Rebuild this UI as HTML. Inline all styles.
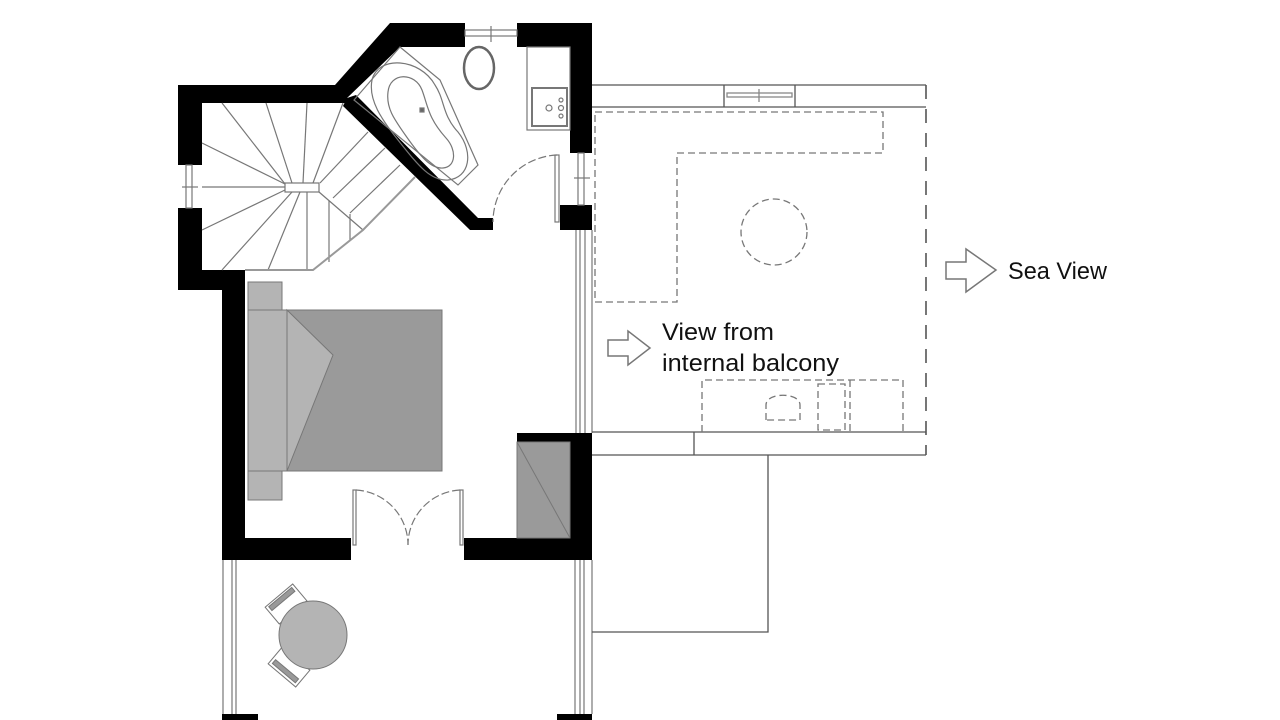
<!DOCTYPE html>
<html><head><meta charset="utf-8"><style>
html,body{margin:0;padding:0;background:#fff;width:1280px;height:720px;overflow:hidden}
svg{display:block}
text{font-family:"Liberation Sans",sans-serif;fill:#111}
</style></head><body>
<svg width="1280" height="720" viewBox="0 0 1280 720" xmlns="http://www.w3.org/2000/svg">
<g fill="#000">
<polygon points="178,85 335,85 390,23 592,23 592,47 517,47 517,47 400,47 347,98 347,103 202,103 202,165 178,165"/>
<rect x="465" y="23" width="52" height="24" fill="#fff"/>
<rect x="570" y="23" width="22" height="130"/>
<rect x="560" y="205" width="32" height="25"/>
<polygon points="347,98 356,95 478,218 493,218 493,230 470,230 343,106"/>
<rect x="178" y="208" width="24" height="82"/>
<rect x="178" y="270" width="67" height="20"/>
<rect x="222" y="270" width="23" height="290"/>
<rect x="222" y="538" width="129" height="22"/>
<rect x="464" y="538" width="128" height="22"/>
<rect x="570" y="433" width="22" height="127"/>
<rect x="517" y="433" width="75" height="9"/>
<rect x="222" y="714" width="36" height="6"/>
<rect x="557" y="714" width="35" height="6"/>
</g>
<g stroke="#777" stroke-width="1.2" fill="none">
<rect x="465" y="30" width="52" height="6"/><line x1="491" y1="26" x2="491" y2="42"/>
<rect x="186" y="165" width="6" height="43"/><line x1="182" y1="187" x2="198" y2="187"/>
<rect x="578" y="153" width="6" height="52"/><line x1="574" y1="178" x2="590" y2="178"/>
<line x1="576" y1="230" x2="576" y2="433"/><line x1="580" y1="230" x2="580" y2="433"/><line x1="585" y1="230" x2="585" y2="433"/><line x1="592" y1="230" x2="592" y2="433"/>
<line x1="223" y1="560" x2="223" y2="714"/><line x1="232" y1="560" x2="232" y2="714"/><line x1="236" y1="560" x2="236" y2="714"/>
<line x1="575" y1="560" x2="575" y2="714"/><line x1="580" y1="560" x2="580" y2="714"/><line x1="584" y1="560" x2="584" y2="714"/><line x1="592" y1="560" x2="592" y2="714"/>
<rect x="285" y="183" width="34" height="9"/>
<line x1="285" y1="187" x2="202" y2="187"/>
<line x1="285" y1="184" x2="222" y2="103"/><line x1="292" y1="183" x2="266" y2="103"/><line x1="303" y1="183" x2="307" y2="103"/><line x1="313" y1="183" x2="343" y2="103"/>
<line x1="285" y1="184" x2="202" y2="143"/><line x1="285" y1="190" x2="202" y2="230"/>
<line x1="292" y1="192" x2="222" y2="270"/><line x1="300" y1="192" x2="268" y2="270"/>
<line x1="307" y1="192" x2="307" y2="270"/><line x1="329" y1="201" x2="329" y2="262"/><line x1="350" y1="214" x2="350" y2="241"/>
<polyline points="319,192 363,230"/>
<polyline points="245,270 313,270 363,230 415,177" stroke="#999" stroke-width="2"/>
<line x1="320" y1="183" x2="368" y2="132"/><line x1="333" y1="198" x2="385" y2="148"/><line x1="350" y1="213" x2="400" y2="165"/>
<polygon points="400,47 440,80 478,165 458,185 354,100"/>
<path d="M372,80 C378,55 420,58 435,85 C445,100 442,115 458,132 C474,152 470,178 448,180 C430,181 418,165 398,140 C382,120 368,100 372,80Z"/>
<path d="M388,92 C390,72 415,72 422,90 C428,106 428,118 446,138 C457,150 456,167 443,168 C431,169 420,156 406,136 C394,119 386,108 388,92Z"/>
<rect x="420" y="108" width="4" height="4" fill="#666"/>
<ellipse cx="479" cy="68" rx="15" ry="21" stroke="#666" stroke-width="2.5"/>
<rect x="527" y="47" width="43" height="83"/>
<rect x="532" y="88" width="35" height="38" stroke-width="2"/>
<circle cx="549" cy="108" r="3"/><circle cx="561" cy="100" r="2"/><circle cx="561" cy="108" r="2.5"/><circle cx="561" cy="116" r="2"/>
<rect x="555" y="155" width="4" height="67"/>
<path d="M557,155 A67,67 0 0 0 493,222" stroke-dasharray="8,3"/>
<rect x="353" y="490" width="3" height="55"/><rect x="460" y="490" width="3" height="55"/>
<path d="M356,490 A55,55 0 0 1 408,545" stroke-dasharray="8,3"/>
<path d="M460,490 A55,55 0 0 0 408,545" stroke-dasharray="8,3"/>
</g>
<g stroke="#777" stroke-width="1">
<rect x="248" y="282" width="34" height="218" fill="#b4b4b4"/>
<rect x="287" y="310" width="155" height="161" fill="#9a9a9a"/>
<rect x="248" y="310" width="39" height="161" fill="#b4b4b4"/>
<polygon points="287,310 333,355 287,471" fill="#b4b4b4"/>
<rect x="517" y="442" width="53" height="96" fill="#9a9a9a"/>
<line x1="517" y1="442" x2="570" y2="538"/>
<g transform="rotate(-40 286 604)"><rect x="268" y="593" width="36" height="22" fill="#fff"/><rect x="271" y="595" width="30" height="5" fill="#999"/></g>
<g transform="rotate(40 289 667)"><rect x="271" y="656" width="36" height="22" fill="#fff"/><rect x="274" y="670" width="30" height="5" fill="#999"/></g>
<circle cx="313" cy="635" r="34" fill="#b4b4b4"/>
</g>
<g stroke="#555" stroke-width="1.3" fill="none">
<line x1="592" y1="85" x2="926" y2="85"/><line x1="592" y1="107" x2="926" y2="107"/>
<line x1="724" y1="85" x2="724" y2="107"/><line x1="795" y1="85" x2="795" y2="107"/>
<rect x="727" y="93" width="65" height="4" stroke="#888"/><line x1="759" y1="89" x2="759" y2="102" stroke="#888"/>
<line x1="926" y1="85" x2="926" y2="455" stroke-dasharray="14,10" stroke-width="1.6"/>
<line x1="592" y1="432" x2="926" y2="432"/><line x1="592" y1="455" x2="926" y2="455"/>
<line x1="694" y1="432" x2="694" y2="455"/>
<polyline points="768,455 768,632 592,632"/>
</g>
<g stroke="#777" stroke-width="1.3" fill="none" stroke-dasharray="7,4">
<polygon points="595,112 883,112 883,153 677,153 677,302 595,302"/>
<circle cx="774" cy="232" r="33"/>
<polyline points="702,432 702,380 903,380 903,432"/>
<rect x="818" y="384" width="27" height="46"/>
<line x1="850" y1="380" x2="850" y2="432"/>
<path d="M766,420 L766,405 C766,392 800,392 800,405 L800,420 Z"/>
</g>
<g stroke="#777" stroke-width="1.5" fill="#fff">
<polygon points="608,340 628,340 628,331 650,348 628,365 628,356 608,356"/>
<polygon points="946,262 966,262 966,249 996,270 966,292 966,279 946,279"/>
</g>
<text x="662" y="340" font-size="24" textLength="112" lengthAdjust="spacingAndGlyphs">View from</text>
<text x="662" y="371" font-size="24" textLength="177" lengthAdjust="spacingAndGlyphs">internal balcony</text>
<text x="1008" y="279" font-size="24" textLength="99" lengthAdjust="spacingAndGlyphs">Sea View</text>
</svg>
</body></html>
